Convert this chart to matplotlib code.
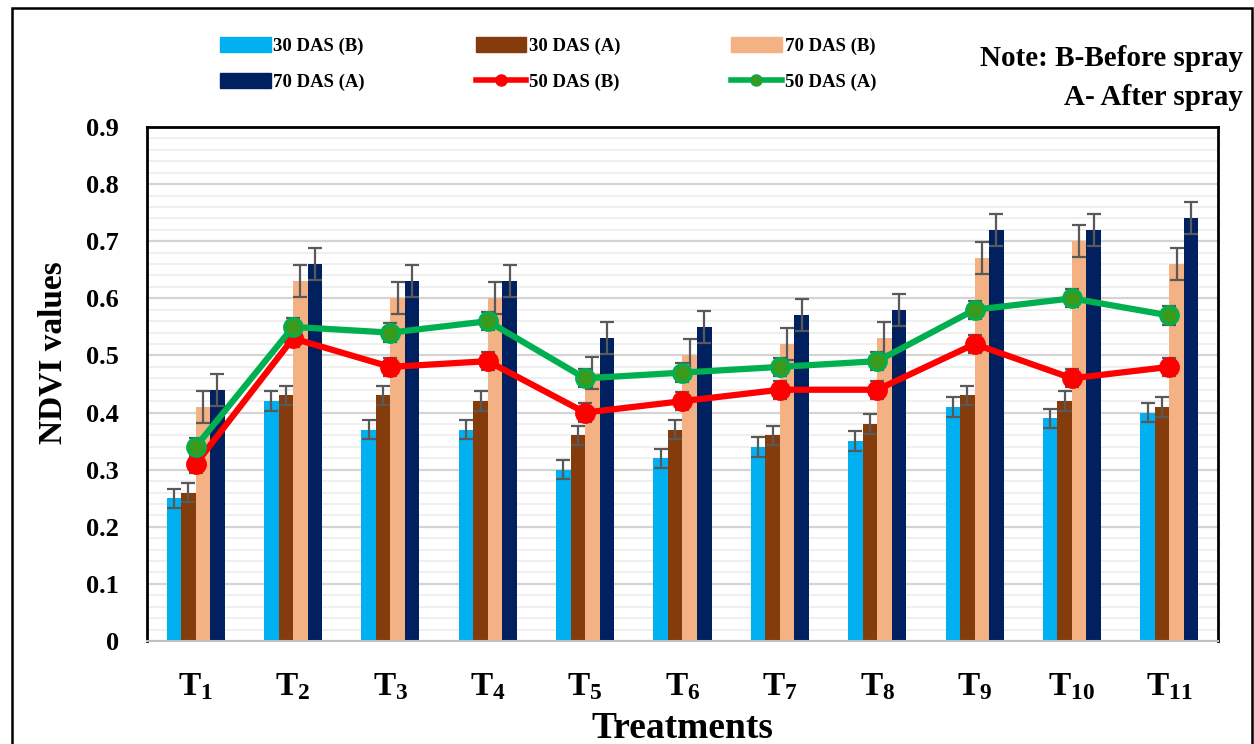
import numpy as np
import matplotlib
matplotlib.use("Agg")
import matplotlib.pyplot as plt
from matplotlib.patches import Rectangle
from matplotlib.lines import Line2D
from matplotlib.patches import Patch

plt.rcParams['font.family'] = ['Liberation Serif', 'DejaVu Serif']
plt.rcParams['font.weight'] = 'bold'
plt.rcParams['mathtext.fontset'] = 'custom'
plt.rcParams['mathtext.rm'] = 'Liberation Serif:bold'
plt.rcParams['mathtext.bf'] = 'Liberation Serif:bold'

treatments = ['1', '2', '3', '4', '5', '6', '7', '8', '9', '10', '11']
das30_b = [0.25, 0.42, 0.37, 0.37, 0.30, 0.32, 0.34, 0.35, 0.41, 0.39, 0.40]
das30_a = [0.26, 0.43, 0.43, 0.42, 0.36, 0.37, 0.36, 0.38, 0.43, 0.42, 0.41]
das70_b = [0.41, 0.63, 0.60, 0.60, 0.47, 0.50, 0.52, 0.53, 0.67, 0.70, 0.66]
das70_a = [0.44, 0.66, 0.63, 0.63, 0.53, 0.55, 0.57, 0.58, 0.72, 0.72, 0.74]
das50_b = [0.31, 0.53, 0.48, 0.49, 0.40, 0.42, 0.44, 0.44, 0.52, 0.46, 0.48]
das50_a = [0.34, 0.55, 0.54, 0.56, 0.46, 0.47, 0.48, 0.49, 0.58, 0.60, 0.57]
err30 = 0.017
err70 = 0.028
err50 = 0.016

fig = plt.figure(figsize=(12.54, 7.44), dpi=100)
ax = fig.add_axes([0.1172, 0.1384, 0.8541, 0.6909])

x = np.arange(len(treatments))
w = 0.149
bars = [(das30_b, '#00b0f0', '30 DAS (B)', err30),
        (das30_a, '#843c0c', '30 DAS (A)', err30),
        (das70_b, '#f4b183', '70 DAS (B)', err70),
        (das70_a, '#002060', '70 DAS (A)', err70)]
for i, (vals, col, lab, e) in enumerate(bars):
    xs = x + (i - 1.5) * w
    ax.bar(xs, vals, width=w, color=col, zorder=2, label=lab)
    ax.errorbar(xs, vals, yerr=e, fmt='none', ecolor='#595959',
                elinewidth=1.6, capsize=5, capthick=1.6, zorder=3)

ax.errorbar(x, das50_b, yerr=err50, fmt='none', ecolor='#595959',
            elinewidth=1.6, capsize=5, capthick=1.6, zorder=3)
ax.errorbar(x, das50_a, yerr=err50, fmt='none', ecolor='#595959',
            elinewidth=1.6, capsize=5, capthick=1.6, zorder=3)
ax.plot(x, das50_b, color='#ff0000', lw=4.5, marker='o', ms=14,
        mfc='#ff0000', mec='#ff0000', zorder=4)
ax.plot(x, das50_a, color='#00b050', lw=4.5, marker='o', ms=13,
        mfc='#3a9a1e', mec='#00b050', mew=2, zorder=5)

ax.set_xlim(-0.5, len(treatments) - 0.5)
ax.set_ylim(0, 0.9)
ax.set_yticks(np.arange(0, 0.91, 0.1))
ax.set_yticklabels(['0'] + ['%.1f' % v for v in np.arange(0.1, 0.91, 0.1)])
ax.set_yticks(np.arange(0, 0.9, 0.02), minor=True)
ax.grid(axis='y', which='major', color='#d4d4d4', lw=1.6, zorder=0)
ax.grid(axis='y', which='minor', color='#ececec', lw=1.2, zorder=0)
ax.set_axisbelow(True)
ax.set_xticks(x)
ax.set_xticklabels([r'$\mathbf{T_{%s}}$' % t for t in treatments], fontsize=24)
ax.tick_params(axis='x', length=0, pad=22)
ax.tick_params(axis='y', which='both', length=0, labelsize=19, pad=20)
for lbl in ax.get_yticklabels():
    lbl.set_fontweight('bold')

for s in ['left', 'top', 'right']:
    ax.spines[s].set_color('#000000')
    ax.spines[s].set_linewidth(2)
ax.spines['bottom'].set_color('#bfbfbf')
ax.spines['bottom'].set_linewidth(1.5)

ax.set_ylabel('NDVI values', fontsize=24, fontweight='bold')
ax.yaxis.set_label_coords(-0.073, 0.562)
ax.set_xlabel('Treatments', fontsize=27, fontweight='bold', labelpad=6)

handles = [Patch(color='#00b0f0'), Patch(color='#843c0c'), Patch(color='#f4b183'),
           Patch(color='#002060'),
           Line2D([], [], color='#ff0000', lw=4, marker='o', ms=8, mfc='#ff0000', mec='#ff0000'),
           Line2D([], [], color='#00b050', lw=4, marker='o', ms=8, mfc='#3a9a1e', mec='#00b050')]
labels = ['30 DAS (B)', '30 DAS (A)', '70 DAS (B)', '70 DAS (A)', '50 DAS (B)', '50 DAS (A)']
order = [0, 3, 1, 4, 2, 5]
fig.legend([handles[i] for i in order], [labels[i] for i in order],
           ncol=3, loc='center', bbox_to_anchor=(0.437, 0.914),
           frameon=False, prop={'size': 13.5, 'weight': 'bold'},
           handlelength=2.7, handleheight=0.9, handletextpad=0.15,
           columnspacing=5.9, labelspacing=0.95)

fig.text(0.991, 0.922, 'Note: B-Before spray', ha='right', va='center',
         fontsize=21, fontweight='bold')
fig.text(0.991, 0.869, 'A- After spray', ha='right', va='center',
         fontsize=21, fontweight='bold')

fig.add_artist(Rectangle((12 / 1254, -0.05), (1252 - 12) / 1254, 1.0 - 8 / 744 + 0.05,
                         transform=fig.transFigure, fill=False, ec='black', lw=1.8))

fig.savefig('out.png', dpi=100)
